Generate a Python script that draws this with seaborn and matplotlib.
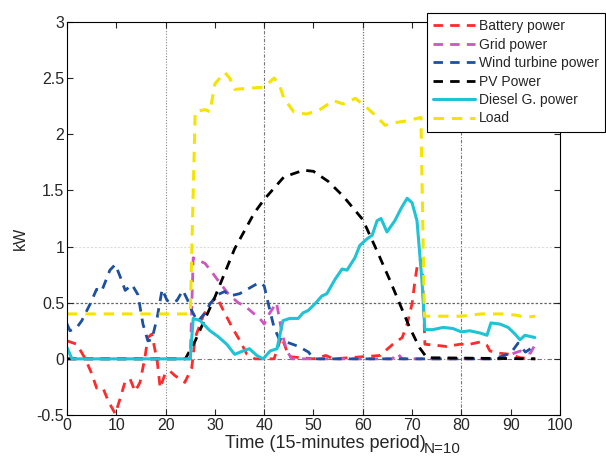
import matplotlib
matplotlib.use("Agg")
import matplotlib.pyplot as plt
import seaborn as sns
from matplotlib.ticker import FormatStrFormatter

# values (time step, kW)
battery_x = [0, 2, 3.7, 5, 6, 7.3, 8.4, 9.8, 10.8, 11.8, 12.8, 13.8, 14.8, 15.8, 16.4, 17.2,
             18.3, 18.9, 19.9, 20.9, 21.9, 23.9, 25.3, 26, 27.6, 29, 30.4, 31.5, 33.5, 35.1,
             36.5, 38.1, 42, 43.5, 45, 50, 52.5, 54, 63.5, 66.1, 68, 69, 70, 70.6, 71.2, 72,
             72.6, 75, 77, 79.7, 81.7, 83.8, 85.2, 85.8, 87.8, 89.9, 91.9, 95]
battery_y = [0.16, 0.13, 0, -0.13, -0.26, -0.26, -0.38, -0.49, -0.35, -0.2, -0.18, -0.29, -0.21,
             0.01, 0.19, 0.22, -0.02, -0.26, -0.13, -0.11, -0.15, -0.21, -0.08, 0.19, 0.38, 0.49,
             0.55, 0.45, 0.28, 0.16, 0.04, 0, 0, 0.2, 0.02, 0, 0.03, 0, 0.03, 0.13, 0.19, 0.31,
             0.49, 0.70, 0.87, 0.88, 0.13, 0.12, 0.11, 0.13, 0.13, 0.15, 0.12, 0.07, 0.05, 0.04,
             0.01, 0]

grid_x = [0, 25, 25.6, 28, 29.6, 30.6, 32.7, 34.7, 36.1, 37.7, 39.1, 40, 41, 42.5, 43.6, 44.6,
          45.6, 66, 67, 68, 88, 90, 92, 94, 95]
grid_y = [0, 0, 0.9, 0.85, 0.76, 0.70, 0.58, 0.5, 0.47, 0.41, 0.36, 0.31, 0.4, 0.5, 0.23, 0.07,
          0, 0, 0.05, 0, 0, 0.04, 0.07, 0.05, 0.13]

wind_x = [0, 0.6, 2, 3, 4.7, 6, 7, 8.7, 9.8, 10.8, 11.8, 13.2, 14.4, 15.4, 16.4, 17.2, 18.3, 19.3,
          20.3, 21.3, 22.3, 23.5, 24.5, 25.3, 26.5, 28, 29, 30.5, 32, 33, 35, 37, 39, 40, 41, 42,
          43, 44.5, 47, 49, 50, 86, 88, 90, 91.5, 93, 95]
wind_y = [0.31, 0.25, 0.28, 0.34, 0.49, 0.62, 0.6, 0.79, 0.84, 0.73, 0.61, 0.66, 0.57, 0.31, 0.16,
          0.17, 0.37, 0.62, 0.52, 0.5, 0.52, 0.61, 0.52, 0.43, 0.33, 0.41, 0.49, 0.57, 0.6, 0.56,
          0.58, 0.63, 0.68, 0.65, 0.46, 0.28, 0.18, 0.15, 0.11, 0.06, 0, 0, 0.02, 0.05, 0.14, 0.06,
          0.12]

pv_x = [0, 24, 26, 30, 34, 38, 40, 44, 48, 50, 53, 56, 60, 63, 65.5, 67.5, 69.5, 71.5, 73, 95]
pv_y = [0, 0, 0.16, 0.55, 0.98, 1.3, 1.42, 1.62, 1.68, 1.67, 1.58, 1.45, 1.24, 0.95, 0.7, 0.49,
        0.28, 0.1, 0.01, 0]

diesel_x = [0, 1, 25, 25.6, 27, 29, 30.6, 32.4, 34, 35.7, 37, 38.5, 39.8, 41.2, 42.6, 43.8, 45.2,
            46.9, 47.9, 48.9, 50.3, 51.7, 52.7, 54.4, 55.8, 56.8, 58.4, 59.4, 60.9, 61.9, 62.9,
            63.7, 64.9, 66.5, 67.9, 69, 70, 71, 72, 72.6, 74.2, 76.3, 78.3, 80, 81.7, 83.8, 85.2,
            86, 87.8, 89.5, 90.9, 91.9, 92.9, 94.9]
diesel_y = [0.1, 0, 0, 0.36, 0.34, 0.25, 0.2, 0.13, 0.04, 0.07, 0.09, 0.03, 0, 0.07, 0.09, 0.34,
            0.36, 0.36, 0.41, 0.43, 0.49, 0.56, 0.58, 0.71, 0.80, 0.79, 0.90, 1.01, 1.07, 1.10,
            1.23, 1.25, 1.13, 1.23, 1.35, 1.43, 1.39, 1.23, 0.70, 0.26, 0.26, 0.28, 0.27, 0.24,
            0.25, 0.23, 0.21, 0.32, 0.31, 0.28, 0.22, 0.17, 0.21, 0.19]

load_x = [0, 25, 26, 28, 29, 30, 32, 33, 34, 37, 40, 42, 43, 44, 46, 48.5, 51, 54, 56, 58.5, 61,
          63, 64.5, 66, 69, 71.8, 72.5, 80, 84, 88, 91, 93, 95]
load_y = [0.4, 0.4, 2.2, 2.22, 2.2, 2.45, 2.55, 2.5, 2.4, 2.41, 2.42, 2.5, 2.45, 2.32, 2.2, 2.18,
          2.21, 2.3, 2.27, 2.32, 2.23, 2.15, 2.08, 2.1, 2.12, 2.15, 0.38, 0.38, 0.4, 0.4, 0.39,
          0.37, 0.38]

series_names = ["Battery power", "Grid power", "Wind turbine power", "PV Power",
                "Diesel G. power", "Load"]

sns.set_style("ticks")
plt.rcParams["font.family"] = ["Liberation Sans", "DejaVu Sans"]
plt.rcParams["axes.unicode_minus"] = False

fig = plt.figure(figsize=(6.06, 4.63), dpi=100)
ax = fig.add_axes([0.1106, 0.1037, 0.8134, 0.8488])

# MATLAB-like partial grid
ax.axvline(20, color="#888888", lw=0.8, ls=(0, (1, 1.5)), zorder=0)
ax.axvline(40, color="#777777", lw=0.8, ls=(0, (3, 1.5, 1, 1.5)), zorder=0)
ax.axvline(60, color="#777777", lw=0.9, ls=(0, (1, 1.2)), zorder=0)
ax.axvline(80, color="#777777", lw=0.8, ls=(0, (3, 1.5, 1, 1.5)), zorder=0)
ax.axhline(0, color="#777777", lw=0.8, ls=(0, (4, 2, 1, 2)), zorder=0)
ax.axhline(0.5, color="#666666", lw=0.9, ls=(0, (2, 1.5)), zorder=0)
ax.axhline(1, color="#dddddd", lw=0.8, ls=(0, (2, 1.5)), zorder=0)

dash = (0, (3.4, 2.6))
sns.lineplot(x=battery_x, y=battery_y, ax=ax, color="#ff2a2a", lw=2, ls=dash, label=series_names[0])
sns.lineplot(x=grid_x, y=grid_y, ax=ax, color="#cf55bf", lw=2, ls=dash, label=series_names[1])
sns.lineplot(x=wind_x, y=wind_y, ax=ax, color="#1c50a0", lw=2, ls=dash, label=series_names[2])
sns.lineplot(x=pv_x, y=pv_y, ax=ax, color="black", lw=2, ls=dash, label=series_names[3])
sns.lineplot(x=diesel_x, y=diesel_y, ax=ax, color="#1ec3d6", lw=2.2, ls="-", label=series_names[4])
sns.lineplot(x=load_x, y=load_y, ax=ax, color="#f5e400", lw=2.2, ls=dash, label=series_names[5])

ax.set_xlim(0, 100)
ax.set_ylim(-0.5, 3)
ax.set_xticks(range(0, 101, 10))
ax.set_yticks([-0.5, 0, 0.5, 1, 1.5, 2, 2.5, 3])
ax.yaxis.set_major_formatter(FormatStrFormatter("%g"))
ax.tick_params(direction="in", top=True, right=True, length=4, width=0.8,
               labelsize=11.5, pad=2)
for s in ax.spines.values():
    s.set_linewidth(0.8)
    s.set_color("black")

ax.set_xlabel("")
ax.set_ylabel("kW", fontsize=11.5)
ax.yaxis.set_label_coords(-0.08, 0.45)
fig.text(0.537, 0.043, "Time (15-minutes period)", fontsize=13, ha="center", va="center")
fig.text(0.700, 0.030, "N=10", fontsize=11, ha="left", va="center")

leg = ax.legend(loc="upper left", bbox_to_anchor=(427 / 606, 1 - 13 / 463),
                bbox_transform=fig.transFigure, fontsize=10, frameon=True, fancybox=False,
                edgecolor="black", framealpha=1, borderpad=0.45, labelspacing=0.32,
                handlelength=3, handletextpad=0.3, borderaxespad=0)
leg.get_frame().set_linewidth(0.8)

fig.savefig("out.png", dpi=100)
